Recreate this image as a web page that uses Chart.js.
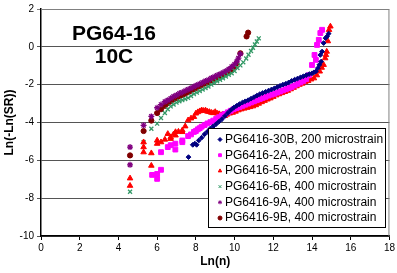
<!DOCTYPE html>
<html lang="en">
<head>
<meta charset="UTF-8" />
<title>PG64-16 10C</title>
<script src="https://cdn.jsdelivr.net/npm/chart.js@4.4.0/dist/chart.umd.min.js"></script>
<style>
  body { margin: 0; background: #fff; }
  #wrap { width: 397px; height: 273px; }
</style>
</head>
<body>
<div id="wrap"><canvas id="chart" width="397" height="273"></canvas></div>
<script>
// Ln(n) / Ln(-Ln(SR)) values
const x30B = [7.62, 7.84, 7.95, 8.04, 8.15, 8.3, 8.45, 8.6, 8.75, 8.9, 9.05, 9.2, 9.35, 9.5, 9.65, 9.8, 9.95, 10.1, 10.25, 10.4, 10.55, 10.7, 10.85, 11.0, 11.15, 11.3, 11.45, 11.6, 11.75, 11.9, 12.05, 12.2, 12.35, 12.5, 12.65, 12.8, 12.95, 13.1, 13.25, 13.4, 13.55, 13.7, 13.85, 14.0, 14.1, 14.2, 14.3, 14.38, 14.43, 14.47, 14.52, 14.6, 14.7, 14.78, 14.86];
const y30B = [-5.83, -5.18, -5.12, -5.18, -4.95, -4.8, -4.62, -4.48, -4.32, -4.2, -4.08, -3.95, -3.82, -3.66, -3.5, -3.35, -3.22, -3.12, -3.03, -2.95, -2.88, -2.82, -2.74, -2.66, -2.58, -2.5, -2.44, -2.38, -2.32, -2.26, -2.2, -2.13, -2.06, -2.0, -1.95, -1.88, -1.8, -1.74, -1.68, -1.62, -1.56, -1.5, -1.44, -1.4, -1.35, -1.3, -1.13, -0.95, -0.43, -0.78, -0.25, 0.2, 0.46, 0.55, 0.7];

const x2A = [5.74, 6.0, 6.0, 6.2, 6.2, 6.55, 6.7, 6.94, 6.94, 7.3, 7.3, 7.6, 7.75, 7.9, 8.0, 8.1, 8.2, 8.3, 8.45, 8.6, 8.75, 8.9, 9.05, 9.2, 9.35, 9.5, 9.65, 9.8, 9.95, 10.1, 10.25, 10.4, 10.55, 10.7, 10.85, 11.0, 11.15, 11.3, 11.45, 11.6, 11.75, 11.9, 12.05, 12.2, 12.35, 12.5, 12.65, 12.8, 12.95, 13.1, 13.25, 13.4, 13.55, 13.7, 13.84, 14.0, 14.13, 14.2, 14.26, 14.35, 14.43, 14.52];
const y2A = [-6.77, -6.72, -6.98, -6.5, -5.57, -5.3, -5.2, -5.12, -5.43, -5.04, -4.95, -4.72, -4.63, -4.5, -4.45, -4.36, -4.3, -4.22, -4.14, -4.05, -3.98, -3.9, -3.8, -3.72, -3.62, -3.55, -3.46, -3.38, -3.3, -3.24, -3.18, -3.12, -3.06, -3.0, -2.94, -2.88, -2.82, -2.76, -2.7, -2.64, -2.58, -2.53, -2.48, -2.42, -2.36, -2.3, -2.24, -2.18, -2.12, -2.04, -1.96, -1.88, -1.8, -1.7, -1.5, -0.96, -0.43, -0.69, 0.1, 0.37, 0.73, 0.9];

const x5A = [4.6, 4.6, 5.3, 5.3, 5.3, 5.7, 5.7, 6.0, 6.0, 6.2, 6.4, 6.55, 6.7, 6.7, 6.85, 6.95, 6.95, 7.1, 7.3, 7.3, 7.45, 7.6, 7.75, 7.9, 8.0, 8.1, 8.2, 8.3, 8.4, 8.5, 8.6, 8.7, 8.8, 8.9, 9.0, 9.1, 9.2, 9.3, 9.4, 9.5, 9.6, 9.75, 9.9, 10.05, 10.2, 10.35, 10.5, 10.65, 10.8, 10.95, 11.1, 11.25, 11.4, 11.55, 11.7, 11.85, 12.0, 12.15, 12.3, 12.45, 12.6, 12.75, 12.9, 13.05, 13.2, 13.35, 13.5, 13.65, 13.8, 13.95, 14.1, 14.25, 14.4, 14.5, 14.6, 14.68, 14.72, 14.76, 14.82, 14.88, 14.95];
const y5A = [-6.95, -7.34, -5.04, -5.3, -5.57, -5.62, -6.28, -5.12, -4.95, -5.04, -4.9, -4.6, -4.86, -4.77, -4.62, -4.5, -4.68, -4.48, -4.41, -4.5, -4.2, -3.88, -3.78, -3.7, -3.52, -3.45, -3.4, -3.35, -3.38, -3.36, -3.42, -3.44, -3.48, -3.5, -3.44, -3.52, -3.55, -3.6, -3.56, -3.65, -3.58, -3.52, -3.48, -3.42, -3.35, -3.3, -3.26, -3.22, -3.18, -3.14, -3.08, -3.0, -2.92, -2.85, -2.78, -2.72, -2.64, -2.56, -2.5, -2.44, -2.38, -2.32, -2.24, -2.16, -2.08, -2.0, -1.94, -1.86, -1.8, -1.72, -1.66, -1.5, -1.3, -1.1, -0.95, -0.6, -0.43, -0.25, 0.3, 0.9, 1.08];

const x6B = [4.6, 5.3, 5.7, 6.0, 6.2, 6.4, 6.55, 6.7, 6.85, 7.0, 7.15, 7.3, 7.45, 7.6, 7.75, 7.9, 8.05, 8.2, 8.35, 8.5, 8.65, 8.8, 8.95, 9.1, 9.25, 9.4, 9.55, 9.7, 9.85, 10.0, 10.15, 10.3, 10.45, 10.6, 10.72, 10.85, 10.95, 11.05, 11.15, 11.25];
const y6B = [-7.66, -5.04, -4.33, -4.06, -3.76, -3.5, -3.3, -3.15, -3.05, -2.95, -2.88, -2.82, -2.76, -2.7, -2.6, -2.5, -2.42, -2.34, -2.26, -2.18, -2.1, -2.0, -1.9, -1.82, -1.74, -1.66, -1.57, -1.48, -1.4, -1.28, -1.12, -0.98, -0.82, -0.62, -0.42, -0.22, -0.05, 0.12, 0.28, 0.45];

const x9A = [4.6, 4.6, 5.3, 5.7, 6.0, 6.2, 6.4, 6.55, 6.7, 6.85, 7.0, 7.15, 7.3, 7.45, 7.6, 7.75, 7.9, 8.05, 8.2, 8.35, 8.5, 8.65, 8.8, 8.95, 9.1, 9.25, 9.4, 9.55, 9.7, 9.85, 10.0, 10.12, 10.2, 10.3];
const y9A = [-5.3, -6.24, -4.15, -3.68, -3.22, -3.05, -2.9, -2.82, -2.72, -2.62, -2.55, -2.46, -2.4, -2.32, -2.25, -2.18, -2.1, -2.02, -1.95, -1.88, -1.8, -1.74, -1.65, -1.58, -1.5, -1.44, -1.36, -1.28, -1.18, -1.05, -0.92, -0.76, -0.6, -0.38];

const x9B = [4.6, 5.3, 5.7, 6.0, 6.2, 6.4, 6.55, 6.7, 6.85, 7.0, 7.15, 7.3, 7.45, 7.6, 7.75, 7.9, 8.05, 8.2, 8.35, 8.5, 8.65, 8.8, 8.95, 9.1, 9.25, 9.4, 9.55, 9.7, 9.85, 10.0, 10.1, 10.3, 10.62, 10.7];
const y9B = [-5.74, -4.45, -3.9, -3.5, -3.3, -3.12, -2.98, -2.88, -2.78, -2.7, -2.62, -2.55, -2.47, -2.4, -2.32, -2.24, -2.16, -2.08, -2.0, -1.93, -1.86, -1.78, -1.7, -1.62, -1.55, -1.48, -1.4, -1.3, -1.18, -1.02, -0.87, -0.34, 0.55, 0.75];

const seriesNames = [
  'PG6416-30B, 200 microstrain',
  'PG6416-2A, 200 microstrain',
  'PG6416-5A, 200 microstrain',
  'PG6416-6B, 400 microstrain',
  'PG6416-9A, 400 microstrain',
  'PG6416-9B, 400 microstrain'
];
const xTicks = [0, 2, 4, 6, 8, 10, 12, 14, 16, 18];
const yTicks = [-10, -8, -6, -4, -2, 0, 2];
const titleLines = ['PG64-16', '10C'];

function pts(xs, ys) {
  return xs.map((v, i) => ({ x: v, y: ys[i] }));
}

// marker looks, roughly like the excel ones
const looks = [
  { color: '#000080', style: 'rectRot', r: 2.4, bw: 1 },
  { color: '#ff00ff', style: 'rect', r: 3.4, bw: 1 },
  { color: '#ff0000', style: 'triangle', r: 3.2, bw: 1 },
  { color: '#339966', style: 'crossRot', r: 2.8, bw: 1.3 },
  { color: '#800080', style: 'star', r: 3, bw: 1.3 },
  { color: '#800000', style: 'circle', r: 2.6, bw: 1 }
];
const allX = [x30B, x2A, x5A, x6B, x9A, x9B];
const allY = [y30B, y2A, y5A, y6B, y9A, y9B];

const datasets = seriesNames.map((name, i) => ({
  label: name,
  data: pts(allX[i], allY[i]),
  backgroundColor: looks[i].color,
  borderColor: looks[i].color,
  pointStyle: looks[i].style,
  pointRadius: looks[i].r,
  pointBorderWidth: looks[i].bw,
  showLine: false
}));

Chart.defaults.font.family = "Arial, 'Liberation Sans', sans-serif";
Chart.defaults.color = '#000';

// title text, the gray frame and the boxed legend
const extras = {
  id: 'extras',
  afterDraw(chart) {
    const ctx = chart.ctx;
    const a = chart.chartArea;
    ctx.save();
    ctx.strokeStyle = '#808080';
    ctx.lineWidth = 1;
    ctx.beginPath();
    ctx.moveTo(a.left, a.top + 0.5);
    ctx.lineTo(a.right - 0.5, a.top + 0.5);
    ctx.lineTo(a.right - 0.5, a.bottom);
    ctx.stroke();

    ctx.fillStyle = '#000';
    ctx.font = "bold 21px Arial, 'Liberation Sans', sans-serif";
    ctx.textAlign = 'center';
    ctx.textBaseline = 'middle';
    ctx.fillText(titleLines[0], 114, 34);
    ctx.fillText(titleLines[1], 114, 57);

    // legend
    const bx = 208, by = 128, bw = 177, bh = 99;
    ctx.fillStyle = '#fff';
    ctx.fillRect(bx, by, bw, bh);
    ctx.strokeStyle = '#000';
    ctx.strokeRect(bx + 0.5, by + 0.5, bw, bh);
    ctx.font = "12px Arial, 'Liberation Sans', sans-serif";
    ctx.textAlign = 'left';
    chart.data.datasets.forEach((ds, i) => {
      const cy = by + 11.5 + i * 15.7;
      ctx.fillStyle = ds.backgroundColor;
      ctx.strokeStyle = ds.borderColor;
      ctx.lineWidth = 1;
      Chart.helpers.drawPoint(ctx, { pointStyle: ds.pointStyle, radius: 2, rotation: 0, borderWidth: 1 }, 220, cy);
      ctx.fillStyle = '#000';
      ctx.fillText(ds.label, 225, cy);
    });
    ctx.restore();
  }
};

new Chart(document.getElementById('chart'), {
  type: 'scatter',
  data: { datasets },
  plugins: [extras],
  options: {
    responsive: false,
    animation: false,
    layout: { padding: { top: 9, right: 4, left: 0, bottom: 0 } },
    plugins: { legend: { display: false }, tooltip: { enabled: false } },
    scales: {
      x: {
        type: 'linear',
        min: 0, max: 18,
        afterBuildTicks: (s) => { s.ticks = xTicks.map(v => ({ value: v })); },
        afterFit: (s) => { s.height = 37; },
        ticks: { font: { size: 10 }, padding: 2, maxRotation: 0 },
        grid: { drawOnChartArea: false, drawTicks: true, tickLength: 4, color: '#000' },
        border: { color: '#000', width: 1.5 },
        title: { display: true, text: 'Ln(n)', font: { size: 12, weight: 'bold' }, padding: { top: 0, bottom: 4 } }
      },
      y: {
        min: -10, max: 2,
        afterBuildTicks: (s) => { s.ticks = yTicks.map(v => ({ value: v })); },
        afterFit: (s) => { s.width = 41; },
        ticks: { font: { size: 10 }, padding: 3 },
        grid: {
          tickLength: 4,
          color: (c) => (c.tick && c.tick.value === 2 ? '#808080' : '#555'),
          lineWidth: 1
        },
        border: { color: '#000', width: 1.5 },
        title: { display: true, text: 'Ln(-Ln(SR))', font: { size: 12, weight: 'bold' }, padding: { top: 2, bottom: 0 } }
      }
    }
  }
});
</script>
</body>
</html>
